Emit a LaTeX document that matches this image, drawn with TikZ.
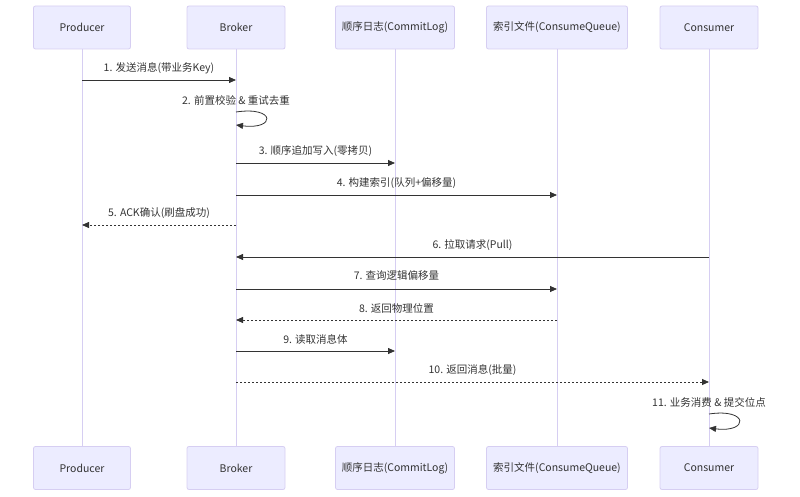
\documentclass[tikz,border=0pt]{standalone}
\usepackage{fontspec}
\setmainfont{Noto Sans CJK SC}
\usetikzlibrary{arrows.meta}
\definecolor{actfill}{HTML}{ECECFF}
\definecolor{actline}{HTML}{D6CEF2}
\definecolor{ink}{HTML}{333333}
\tikzset{
  actor/.style={draw=actline, fill=actfill, rounded corners=2pt, minimum width=#1, minimum height=43pt, inner sep=0pt, font=\fontsize{10.5}{12}\selectfont, text=ink, line width=0.8pt},
  life/.style={draw=actline, line width=0.8pt},
  msg/.style={draw=ink, line width=0.8pt, -{Triangle[length=7pt,width=6pt]}},
  reply/.style={msg, dash pattern=on 2pt off 2pt},
  lbl/.style={font=\fontsize{10.5}{12}\selectfont, text=ink, inner sep=0pt}
}
\begin{document}
\begin{tikzpicture}[x=1pt,y=-1pt]
\useasboundingbox (0,0) rectangle (800,497);
% top actors
\node[actor=97pt] (pT) at (82,27.5) {Producer};
\node[actor=98pt] (bT) at (236,27.5) {Broker};
\node[actor=119pt] (cT) at (395,27.5) {顺序日志(CommitLog)};
\node[actor=141pt] (qT) at (557,27.5) {索引文件(ConsumeQueue)};
\node[actor=98pt] (uT) at (709,27.5) {Consumer};
% bottom actors
\node[actor=97pt] (pB) at (82,468) {Producer};
\node[actor=98pt] (bB) at (236,468) {Broker};
\node[actor=119pt] (cB) at (395,468) {顺序日志(CommitLog)};
\node[actor=141pt] (qB) at (557,468) {索引文件(ConsumeQueue)};
\node[actor=98pt] (uB) at (709,468) {Consumer};
% lifelines
\draw[life] (pT.south) -- (pB.north);
\draw[life] (bT.south) -- (bB.north);
\draw[life] (cT.south) -- (cB.north);
\draw[life] (qT.south) -- (qB.north);
\draw[life] (uT.south) -- (uB.north);
% coordinates on lifelines
\foreach \n/\x in {p/82,b/236,c/395,q/557,u/709}{
  \foreach \k/\y in {1/80,3/163,4/195,5/225,6/257,7/289,8/320,9/351,10/382}{
    \coordinate (\n\k) at (\x,\y);
  }
}
\coordinate (b2a) at (236,112);
\coordinate (b2b) at (236,125);
\coordinate (u11a) at (709,414);
\coordinate (u11b) at (709,428);
% messages
\draw[msg] (p1) -- (b1);
\node[lbl] (l1) at (159,68) {1. 发送消息(带业务Key)};
\draw[msg] (b2a) .. controls ++(40,-6) and ++(40,5) .. (b2b);
\node[lbl] (l2) at (236,100) {2. 前置校验 \& 重试去重};
\draw[msg] (b3) -- (c3);
\node[lbl] (l3) at (315.5,151) {3. 顺序追加写入(零拷贝)};
\draw[msg] (b4) -- (q4);
\node[lbl] (l4) at (396.5,183) {4. 构建索引(队列+偏移量)};
\draw[reply] (b5) -- (p5);
\node[lbl] (l5) at (159,213) {5. ACK确认(刷盘成功)};
\draw[msg] (u6) -- (b6);
\node[lbl] (l6) at (472.5,245) {6. 拉取请求(Pull)};
\draw[msg] (b7) -- (q7);
\node[lbl] (l7) at (396.5,276) {7. 查询逻辑偏移量};
\draw[reply] (q8) -- (b8);
\node[lbl] (l8) at (396.5,308) {8. 返回物理位置};
\draw[msg] (b9) -- (c9);
\node[lbl] (l9) at (315.5,339) {9. 读取消息体};
\draw[reply] (b10) -- (u10);
\node[lbl] (l10) at (472.5,370) {10. 返回消息(批量)};
\draw[msg] (u11a) .. controls ++(40,-6) and ++(40,5) .. (u11b);
\node[lbl] (l11) at (709,402) {11. 业务消费 \& 提交位点};
\end{tikzpicture}
\end{document}
